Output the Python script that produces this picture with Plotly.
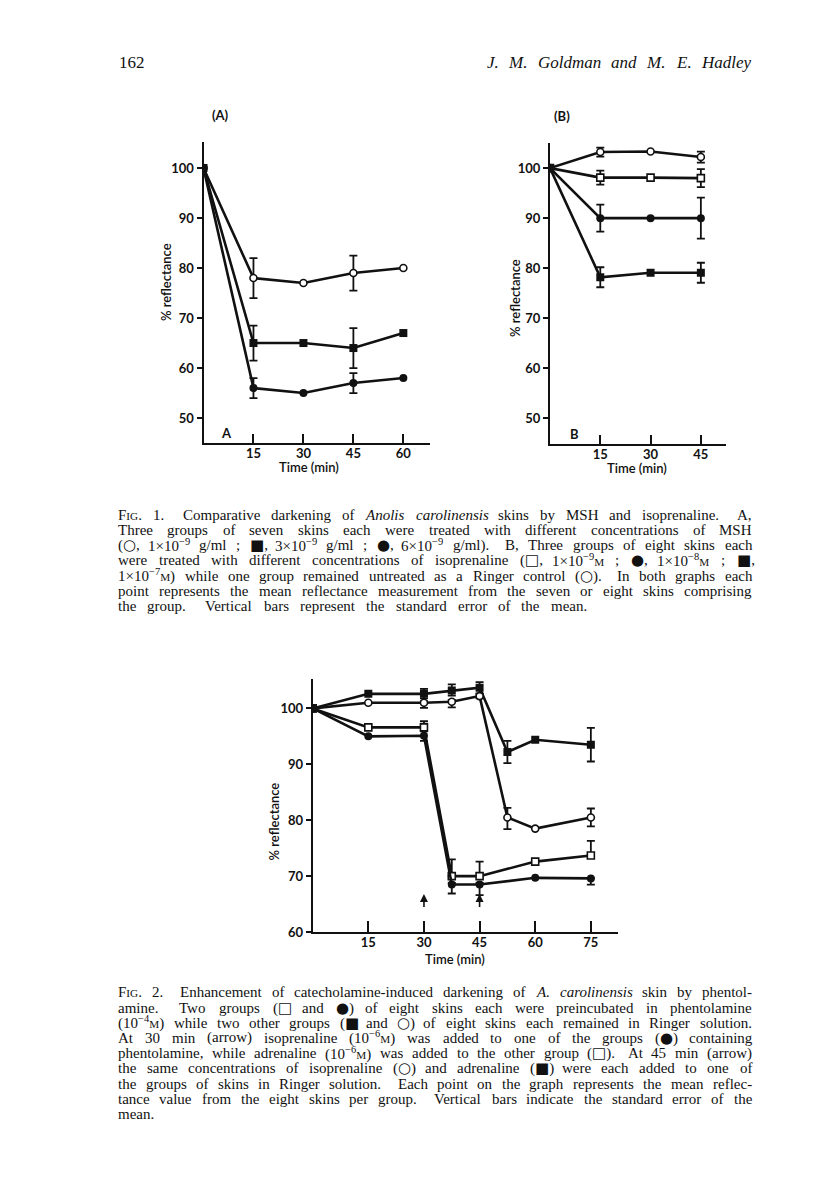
import re
import plotly.graph_objects as go

# ---------------- DATA ----------------
# Fig 1A  (MSH)
a_time = [0, 15, 30, 45, 60]
a_open_circle = [100, 78, 77, 79, 80]          # 1e-9 g/ml
a_open_circle_err = [0, 4.0, 0, 3.5, 0]
a_filled_square = [100, 65, 65, 64, 67]        # 3e-9 g/ml
a_filled_square_err = [0, 3.5, 0, 4.0, 0]
a_filled_circle = [100, 56, 55, 57, 58]        # 6e-9 g/ml
a_filled_circle_err = [0, 2.0, 0, 2.0, 0]

# Fig 1B  (isoprenaline)
b_time = [0, 15, 30, 45]
b_open_circle = [100, 103.2, 103.3, 102.2]     # Ringer control
b_open_circle_err = [0, 0.9, 0, 1.1]
b_open_square = [100, 98.1, 98.1, 98.0]        # 1e-9 M
b_open_square_err = [0, 1.4, 0, 1.8]
b_filled_circle = [100, 90.0, 90.0, 90.0]      # 1e-8 M
b_filled_circle_err = [0, 2.7, 0, 4.1]
b_filled_square = [100, 78.2, 79.1, 79.1]      # 1e-7 M
b_filled_square_err = [0, 2.0, 0, 2.0]

# Fig 2
c_time_ringer = [0, 15, 30, 37.5, 45, 52.5, 60, 75]
c_filled_square = [100, 102.6, 102.6, 103.2, 103.7, 92.2, 94.4, 93.5]
c_filled_square_up = [0, 0, 0.9, 1.1, 1.0, 2.0, 0, 3.0]
c_filled_square_dn = [0, 0, 0.8, 0.9, 1.0, 2.0, 0, 3.0]
c_open_circle = [100, 101.0, 101.0, 101.2, 102.2, 80.5, 78.5, 80.5]
c_open_circle_up = [0, 0, 0.3, 0.3, 0.4, 1.7, 0, 1.6]
c_open_circle_dn = [0, 0, 0.9, 1.0, 0.4, 2.1, 0, 1.6]
c_time_phent = [0, 15, 30, 37.5, 45, 60, 75]
c_open_square = [100, 96.6, 96.6, 70.0, 70.0, 72.6, 73.7]
c_open_square_up = [0, 0, 1.1, 3.0, 2.6, 0, 2.6]
c_open_square_dn = [0, 0, 0.5, 0, 0, 0, 0]
c_filled_circle = [100, 95.0, 95.1, 68.5, 68.5, 69.7, 69.6]
c_filled_circle_up = [0, 0, 0.8, 0.3, 0.3, 0, 0]
c_filled_circle_dn = [0, 0, 0.9, 1.6, 1.9, 0, 1.1]
c_arrow_times = [30, 45]

a_xticks = [15, 30, 45, 60]
b_xticks = [15, 30, 45]
c_xticks = [15, 30, 45, 60, 75]
ab_yticks = [50, 60, 70, 80, 90, 100]
c_yticks = [60, 70, 80, 90, 100]

# ---------------- TEXT ----------------
header_page = "162"
header_authors = "<i>J.</i>  <i>M.</i>  <i>Goldman</i>  <i>and</i>  <i>M.</i>  <i>E.</i>  <i>Hadley</i>"

fig1_caption = [
    "F<sc>IG</sc>. 1.  Comparative darkening of <i>Anolis</i> <i>carolinensis</i> skins by MSH and isoprenaline.  A,",
    "Three groups of seven skins each were treated with different concentrations of MSH",
    "(○, 1×10<sup>−9</sup> g/ml ; ■, 3×10<sup>−9</sup> g/ml ; ●, 6×10<sup>−9</sup> g/ml).  B, Three groups of eight skins each",
    "were treated with different concentrations of isoprenaline (□, 1×10<sup>−9</sup><sc>M</sc> ; ●, 1×10<sup>−8</sup><sc>M</sc> ; ■,",
    "1×10<sup>−7</sup><sc>M</sc>) while one group remained untreated as a Ringer control (○).  In both graphs each",
    "point represents the mean reflectance measurement from the seven or eight skins comprising",
    "the group.  Vertical bars represent the standard error of the mean.",
]
fig2_caption = [
    "F<sc>IG</sc>. 2.  Enhancement of catecholamine-induced darkening of <i>A.</i> <i>carolinensis</i> skin by phentol-",
    "amine.  Two groups (□ and ●) of eight skins each were preincubated in phentolamine",
    "(10<sup>−4</sup><sc>M</sc>) while two other groups (■ and ○) of eight skins each remained in Ringer solution.",
    "At 30 min (arrow) isoprenaline (10<sup>−6</sup><sc>M</sc>) was added to one of the groups (●) containing",
    "phentolamine, while adrenaline (10<sup>−6</sup><sc>M</sc>) was added to the other group (□).  At 45 min (arrow)",
    "the same concentrations of isoprenaline (○) and adrenaline (■) were each added to one of",
    "the groups of skins in Ringer solution.  Each point on the graph represents the mean reflec-",
    "tance value from the eight skins per group.  Vertical bars indicate the standard error of the",
    "mean.",
]

# ---------------- FIGURE ----------------
W_PX, H_PX = 816, 1204
BLACK = "#111"
SANS = "Lato"
SERIF = "Liberation Serif"
SYMS = "○■●□"


def px(x):
    return x / W_PX


def py(y):
    return 1 - y / H_PX


fig = go.Figure()


def add_series(x, y, xa, ya, symbol, filled, up, dn):
    ex = [xi for xi, u, d in zip(x, up, dn) if (u or d)]
    ey = [yi for yi, u, d in zip(y, up, dn) if (u or d)]
    eu = [u for u, d in zip(up, dn) if (u or d)]
    ed = [d for u, d in zip(up, dn) if (u or d)]
    fig.add_trace(go.Scatter(
        x=ex, y=ey, xaxis=xa, yaxis=ya, mode="markers",
        marker=dict(size=1, color="rgba(0,0,0,0)"),
        error_y=dict(type="data", array=eu, arrayminus=ed, symmetric=False,
                     color=BLACK, thickness=1.8, width=4),
        hoverinfo="skip"))
    fig.add_trace(go.Scatter(
        x=x, y=y, xaxis=xa, yaxis=ya, mode="lines+markers",
        line=dict(color=BLACK, width=2.6),
        marker=dict(symbol=symbol, size=8 if filled else 7,
                    color=BLACK if filled else "white",
                    line=dict(color=BLACK, width=0 if filled else 1.6))))


# Fig 1A
add_series(a_time, a_open_circle, "x", "y", "circle", False, a_open_circle_err, a_open_circle_err)
add_series(a_time, a_filled_square, "x", "y", "square", True, a_filled_square_err, a_filled_square_err)
add_series(a_time, a_filled_circle, "x", "y", "circle", True, a_filled_circle_err, a_filled_circle_err)
# Fig 1B
add_series(b_time, b_open_circle, "x2", "y2", "circle", False, b_open_circle_err, b_open_circle_err)
add_series(b_time, b_open_square, "x2", "y2", "square", False, b_open_square_err, b_open_square_err)
add_series(b_time, b_filled_circle, "x2", "y2", "circle", True, b_filled_circle_err, b_filled_circle_err)
add_series(b_time, b_filled_square, "x2", "y2", "square", True, b_filled_square_err, b_filled_square_err)
# Fig 2
add_series(c_time_ringer, c_filled_square, "x3", "y3", "square", True, c_filled_square_up, c_filled_square_dn)
add_series(c_time_ringer, c_open_circle, "x3", "y3", "circle", False, c_open_circle_up, c_open_circle_dn)
add_series(c_time_phent, c_open_square, "x3", "y3", "square", False, c_open_square_up, c_open_square_dn)
add_series(c_time_phent, c_filled_circle, "x3", "y3", "circle", True, c_filled_circle_up, c_filled_circle_dn)

tickfont = dict(family=SANS, size=13, color=BLACK, weight="bold")


def xaxis(domain, rng, anchor, tickvals, ticklen):
    return dict(domain=domain, range=rng, anchor=anchor, showline=True, linecolor=BLACK,
                linewidth=2, ticks="inside", ticklen=ticklen, tickwidth=2, tickcolor=BLACK,
                tickvals=tickvals, ticktext=[str(v) for v in tickvals], showgrid=False,
                zeroline=False, tickfont=tickfont, fixedrange=True, ticklabelstandoff=-3)


def yaxis(domain, rng, anchor, tickvals):
    return dict(domain=domain, range=rng, anchor=anchor, showline=True, linecolor=BLACK,
                linewidth=2, ticks="outside", ticklen=5, tickwidth=2, tickcolor=BLACK,
                tickvals=tickvals, ticktext=[str(v) for v in tickvals], showgrid=False,
                zeroline=False, tickfont=tickfont, fixedrange=True)


fig.update_layout(
    width=W_PX, height=H_PX, margin=dict(l=0, r=0, t=0, b=0),
    paper_bgcolor="white", plot_bgcolor="rgba(0,0,0,0)", showlegend=False,
    xaxis=xaxis([px(203.5), px(430)], [0, 68], "y", a_xticks, 9),
    yaxis=yaxis([py(446), py(143)], [45, 105.2], "x", ab_yticks),
    xaxis2=xaxis([px(550), px(726)], [0, 52.5], "y2", b_xticks, 9),
    yaxis2=yaxis([py(447), py(144)], [44.9, 105], "x2", ab_yticks),
    xaxis3=xaxis([px(312.7), px(618.3)], [0, 82.4], "y3", c_xticks, 11),
    yaxis3=yaxis([py(938.3), py(683.3)], [60, 105.3], "x3", c_yticks),
)

ann = []


def label(x, y, text, size=13, angle=0, weight="bold", family=SANS, xanchor="center"):
    ann.append(dict(x=px(x), y=py(y), xref="paper", yref="paper", text=text, showarrow=False,
                    textangle=angle, xanchor=xanchor, yanchor="middle",
                    font=dict(family=family, size=size, color=BLACK, weight=weight)))


label(220, 116, "(A)")
label(562, 117, "(B)")
label(166, 284, "% reflectance", angle=-90, weight=600)
label(515, 300, "% reflectance", angle=-90, weight=600)
label(274, 827, "% reflectance", angle=-90, weight=600)
label(309, 470, "Time (min)", weight=600)
label(637, 471, "Time (min)", weight=600)
label(455, 965, "Time (min)", weight=600)
ann.append(dict(x=7, y=47, xref="x", yref="y", text="A", showarrow=False,
                font=dict(family=SANS, size=13, color=BLACK, weight="bold")))
ann.append(dict(x=7.3, y=47, xref="x2", yref="y2", text="B", showarrow=False,
                font=dict(family=SANS, size=13, color=BLACK, weight="bold")))
for t in c_arrow_times:
    ann.append(dict(x=t, y=66.8, xref="x3", yref="y3", ax=t, ay=64.2, axref="x3", ayref="y3",
                    showarrow=True, arrowhead=2, arrowsize=1, arrowwidth=1.6, arrowcolor=BLACK,
                    text=""))

# ---------------- justified text ----------------
TW = {' ': 250, '(': 333, ')': 333, ',': 250, '-': 333, '.': 250, '/': 278, ':': 278, ';': 278,
      '×': 564, '−': 564, '○': 770, '■': 770, '●': 770, '□': 770}
for c in "0123456789":
    TW[c] = 500
TW.update(dict(zip("ABCDEFGHIJKLMNOPQRSTUVWXYZ",
                   [722, 667, 667, 722, 611, 556, 722, 722, 333, 389, 722, 611, 889, 722, 722, 556,
                    722, 667, 556, 611, 722, 722, 944, 722, 722, 611])))
TW.update(dict(zip("abcdefghijklmnopqrstuvwxyz",
                   [444, 500, 444, 500, 444, 333, 500, 500, 278, 278, 500, 278, 778, 500, 500, 500,
                    500, 333, 389, 278, 500, 500, 722, 500, 500, 444])))


def width_of(word, size):
    total, stack = 0.0, []
    for tok in re.split(r"(<[^>]+>)", word):
        if tok.startswith("<"):
            if tok.startswith("</"):
                stack.pop()
            elif tok.startswith("<sup"):
                stack.append(0.7)
            elif tok.startswith("<sc"):
                stack.append(0.75)
            else:
                stack.append(1.0)
            continue
        s = 1.0
        for f in stack:
            s *= f
        for ch in tok:
            total += TW.get(ch, 500) / 1000.0 * size * s
    return total


def to_html(word, size):
    out = word.replace("<sc>", '<span style="font-size:%.1fpx">' % (size * 0.75)).replace("</sc>", "</span>")
    for s in SYMS:
        out = out.replace(s, '<span style="font-family:DejaVu Sans">%s</span>' % s)
    return out


def justify(line, left, right, y, size, justify_line=True):
    parts = re.split(r"( +)", line)
    words = parts[0::2]
    gaps = [1.0 if len(g) == 1 else 1.7 for g in parts[1::2]]
    widths = [width_of(w, size) for w in words]
    if justify_line and gaps:
        unit = (right - left - sum(widths)) / sum(gaps)
    else:
        unit = 0.25 * size
    x = left
    for i, w in enumerate(words):
        ann.append(dict(x=px(x - 2), y=py(y), xref="paper", yref="paper", text=to_html(w, size),
                        showarrow=False, xanchor="left", yanchor="middle",
                        font=dict(family=SERIF, size=size, color=BLACK)))
        if i < len(gaps):
            x += widths[i] + gaps[i] * unit


CAP_SIZE = 15
for i, line in enumerate(fig1_caption):
    last = i == len(fig1_caption) - 1
    justify(line, 118, 587 if last else 752, 518 + 15.4 * i, CAP_SIZE)
for i, line in enumerate(fig2_caption):
    last = i == len(fig2_caption) - 1
    justify(line, 118, 752, 999 + 15.3 * i, CAP_SIZE, justify_line=not last)

label(117, 63, header_page, size=17, weight="normal", family=SERIF, xanchor="left")
justify(header_authors, 487, 750, 63, 17)

fig.update_layout(annotations=ann)
fig.write_html("out.html", config={"displayModeBar": False},
               post_script="document.body.style.margin='0';")
